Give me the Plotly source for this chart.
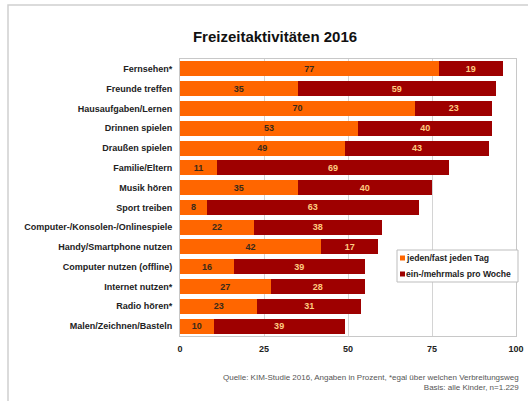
import plotly.graph_objects as go

categories = [
    "Fernsehen*", "Freunde treffen", "Hausaufgaben/Lernen", "Drinnen spielen",
    "Draußen spielen", "Familie/Eltern", "Musik hören", "Sport treiben",
    "Computer-/Konsolen-/Onlinespiele", "Handy/Smartphone nutzen",
    "Computer nutzen (offline)", "Internet nutzen*", "Radio hören*",
    "Malen/Zeichnen/Basteln",
]
daily = [77, 35, 70, 53, 49, 11, 35, 8, 22, 42, 16, 27, 23, 10]
weekly = [19, 59, 23, 40, 43, 69, 40, 63, 38, 17, 39, 28, 31, 39]
series_names = ["jeden/fast jeden Tag", "ein-/mehrmals pro Woche"]
x_ticks = [0, 25, 50, 75, 100]

FONT = "Liberation Sans, Arial, sans-serif"
ORANGE = "#FF6600"
DARKRED = "#9E0000"
colors = [ORANGE, DARKRED]

W, H = 528, 401
L, R, T, B = 180, 12, 59, 65
PW, PH = W - L - R, H - T - B


def px(x):
    return (x - L) / PW


def py(y):
    return (H - B - y) / PH


fig = go.Figure()
fig.add_trace(go.Bar(
    y=categories, x=daily, orientation="h", name=series_names[0],
    marker=dict(color=colors[0], line=dict(width=0)),
    texttemplate="%{x}", textposition="inside", insidetextanchor="middle",
    textangle=0, constraintext="none",
    textfont=dict(family=FONT, size=9, color="#3a2a1a", weight="bold"),
))
fig.add_trace(go.Bar(
    y=categories, x=weekly, orientation="h", name=series_names[1],
    marker=dict(color=colors[1], line=dict(width=0)),
    texttemplate="%{x}", textposition="inside", insidetextanchor="middle",
    textangle=0, constraintext="none",
    textfont=dict(family=FONT, size=9, color="#FFCC80", weight="bold"),
))

fig.update_layout(
    width=W, height=H,
    barmode="stack", bargap=0.24,
    margin=dict(l=L, r=R, t=T, b=B, autoexpand=False),
    paper_bgcolor="white", plot_bgcolor="white",
    font=dict(family=FONT, size=9, color="#222"),
    title=dict(text="Freizeitaktivitäten 2016", x=275/W, xanchor="center",
               y=1-37/H, yanchor="middle",
               font=dict(family=FONT, size=15, color="#111", weight="bold")),
    xaxis=dict(range=[0, 100], tickvals=x_ticks, showgrid=True,
               gridcolor="#d4d4d4", gridwidth=1, zeroline=False,
               showline=True, linecolor="#c8c8c8", mirror=True,
               ticks="outside", ticklen=4, tickcolor="white",
               tickfont=dict(family=FONT, size=9, color="#222", weight="bold")),
    yaxis=dict(autorange="reversed", showgrid=False, ticks="",
               showline=True, linecolor="#c8c8c8", mirror=True,
               ticksuffix="  ",
               tickfont=dict(family=FONT, size=9, color="#222", weight="bold")),
    showlegend=False,
)

# outer frame
fig.add_shape(type="rect", xref="paper", yref="paper",
              x0=px(8), x1=px(560), y0=py(430), y1=py(5),
              line=dict(color="#d0d0d0", width=1.5), fillcolor="rgba(0,0,0,0)",
              layer="below")

# legend box (drawn manually)
fig.add_shape(type="rect", xref="paper", yref="paper",
              x0=px(397), x1=px(518), y0=py(282), y1=py(250),
              line=dict(color="#bdbdbd", width=1), fillcolor="white",
              layer="above")
for i, (name, c) in enumerate(zip(series_names, colors)):
    yc = 258 + i * 16
    fig.add_shape(type="rect", xref="paper", yref="paper",
                  x0=px(400), x1=px(405), y0=py(yc + 2.5), y1=py(yc - 2.5),
                  line=dict(width=0), fillcolor=c, layer="above")
    fig.add_annotation(xref="paper", yref="paper", x=px(404), y=py(yc),
                       xanchor="left", yanchor="middle", showarrow=False,
                       text=name,
                       font=dict(family=FONT, size=8.6, color="#222", weight="bold"))

fig.add_annotation(
    xref="paper", yref="paper", x=px(521), y=py(371),
    xanchor="right", yanchor="top", align="right", showarrow=False,
    text="Quelle: KIM-Studie 2016, Angaben in Prozent, *egal über welchen Verbreitungsweg<br>Basis: alle Kinder, n=1.229",
    font=dict(family=FONT, size=8, color="#555"),
)

fig.write_html("out.html")
